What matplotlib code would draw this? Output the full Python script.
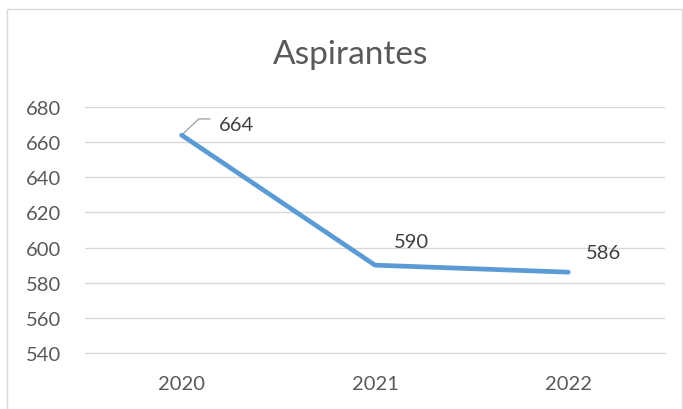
import matplotlib
matplotlib.use("Agg")
import matplotlib.pyplot as plt
from matplotlib.patches import Rectangle

years = ["2020", "2021", "2022"]
aspirantes = [664, 590, 586]
yticks = [540, 560, 580, 600, 620, 640, 660, 680]

plt.rcParams['font.family'] = ['Lato', 'DejaVu Sans']

fig = plt.figure(figsize=(6.83, 4.10), dpi=100)
W, H = 683, 410
# chart frame
fig.patches.append(Rectangle((7 / W, -0.01), (682 - 7) / W, 1 - 10 / H + 0.01,
                             transform=fig.transFigure, fill=False,
                             edgecolor="#D9D9D9", linewidth=1.0))

ax = fig.add_axes([85 / W, 1 - 354 / H, (665 - 85) / W, (354 - 108) / H])
x = list(range(len(years)))
ax.plot(x, aspirantes, color="#5B9BD5", linewidth=3.4, solid_capstyle="round",
        solid_joinstyle="round", zorder=3)

ax.set_xlim(-0.5, len(years) - 0.5)
ax.set_ylim(yticks[0], yticks[-1])
ax.set_yticks(yticks)
ax.set_xticks(x)
ax.set_xticklabels(years)
ax.grid(axis="y", color="#D9D9D9", linewidth=1.0)
ax.set_axisbelow(True)
for s in ["top", "right", "left"]:
    ax.spines[s].set_visible(False)
ax.spines["bottom"].set_color("#D9D9D9")
ax.tick_params(axis="both", length=0, labelsize=14.5, colors="#595959")
ax.tick_params(axis="y", pad=17)
ax.tick_params(axis="x", pad=16)

fig.text(351 / W, 1 - 55 / H, "Aspirantes", ha="center", va="center",
         fontsize=24, color="#595959")

# data labels
ax.annotate(str(aspirantes[0]), xy=(x[0], aspirantes[0]), xytext=(27, 8),
            textcoords="offset points", ha="left", va="center", fontsize=14.5,
            color="#404040")
ax.plot([x[0], x[0] + 0.088, x[0] + 0.145], [aspirantes[0], 673.2, 673.2],
        color="#A6A6A6", linewidth=1.0, zorder=2)
ax.annotate(str(aspirantes[1]), xy=(x[1], aspirantes[1]), xytext=(26, 17),
            textcoords="offset points", ha="center", va="center", fontsize=14.5,
            color="#404040")
ax.annotate(str(aspirantes[2]), xy=(x[2], aspirantes[2]), xytext=(25, 14),
            textcoords="offset points", ha="center", va="center", fontsize=14.5,
            color="#404040")

fig.savefig("out.png", dpi=100)
